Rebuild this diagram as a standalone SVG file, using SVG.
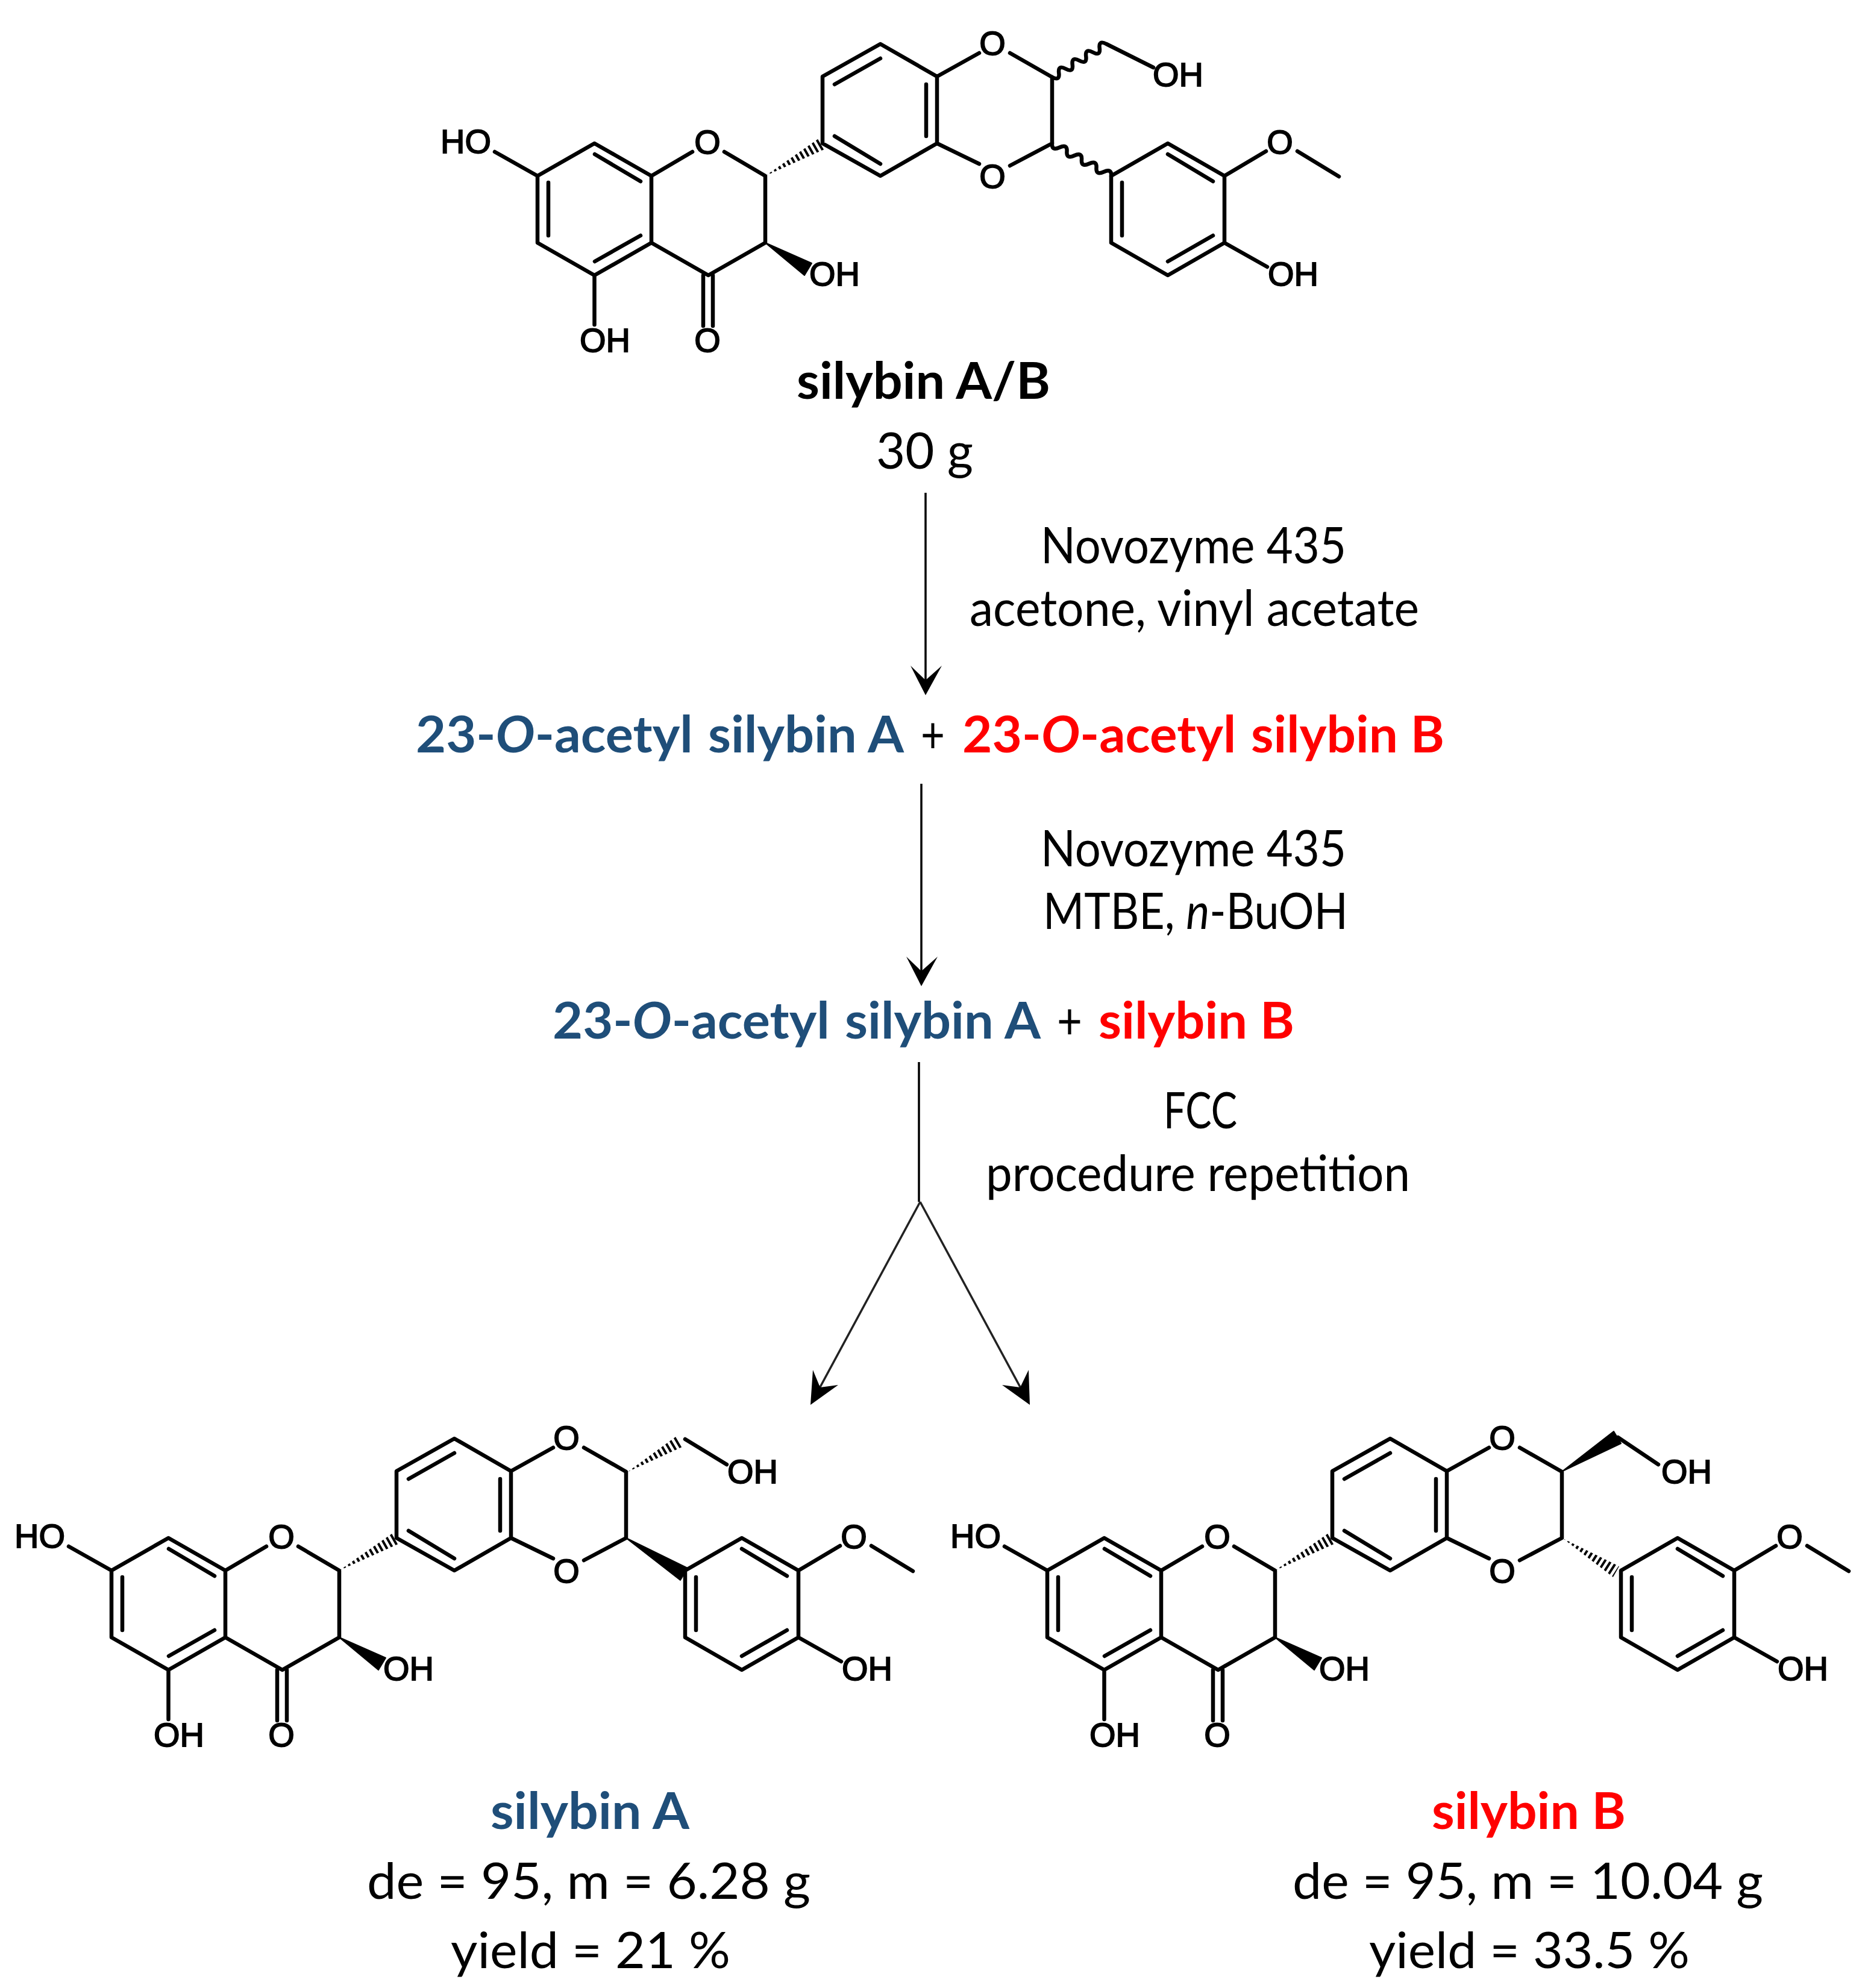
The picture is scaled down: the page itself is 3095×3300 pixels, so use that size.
<svg xmlns="http://www.w3.org/2000/svg" width="3095" height="3300" viewBox="0 0 3095 3300">
<style>
.b{fill:none;stroke:#000;stroke-width:6.5;stroke-linecap:round;stroke-linejoin:round}
.w{fill:#000;stroke:#000;stroke-width:2;stroke-linejoin:round}
.h{fill:none;stroke:#000;stroke-width:24;stroke-dasharray:4 4.5}
.a{font-family:"Liberation Sans",Arial,sans-serif;font-size:56px;fill:#000;stroke:#000;stroke-width:1.8;text-anchor:middle}
.t{font-family:Lato,"Open Sans","Liberation Sans",sans-serif;font-size:84px;fill:#000}
.bd{font-weight:700}
.blue{fill:#1F4E79}
.red{fill:#FF0000}
.c{fill:none;stroke:#000;stroke-width:3.5}
.d{fill:none;stroke:#222;stroke-width:3.5}
.ah{fill:#000}
</style>
<defs>
<clipPath id="c1"><polygon points="189,0 289,-45 279,-63"/></clipPath>
<clipPath id="c2"><polygon points="668,-164 760,-206 750,-224"/></clipPath>
<clipPath id="c3"><polygon points="667,-53 750,11 760,-7"/></clipPath>
<g id="skeleton">
<path class="b" d="M-189,0L-94.5,-54L0,0V111L-94.5,165L-189,111ZM-171,11V99M-94,-36L-18,9M-18,99L-94,142M-260,-40L-189,0M-94.5,165V247M86,165V249M102,165V249M0,0L68,-40M121,-40L189,0V111L94.5,165L0,111M284,-54V-165L380,-219L474,-165V-54L380,0ZM304,-152L380,-195M456,-152V-66M304,-66L380,-20M474,-165L544,-204M595,-204L665,-164V-54L595,-17M544,-20L474,-54M763,0L857,-54L951,0V111L857,165L763,111ZM781,11V99M857,-36L932,9M932,99L857,142M951,0L1020,-41M1072,-41L1141,1M951,111L1022,151"/>
<polygon class="w" points="189,111 254,165 266,145"/>
<line class="h" x1="189" y1="0" x2="284" y2="-54" clip-path="url(#c1)"/>
</g>
</defs>
<g id="connectors">
<path class="c" d="M1536,818V1130M1529,1301V1613M1525,1763V1995"/>
<path class="d" d="M1527,1995L1358,2308M1527,1995L1696,2308"/>
<path class="ah" d="M1536,1154L1511,1105L1536,1129L1563,1105ZM1529,1637L1504,1588L1529,1612L1556,1588Z"/>
<path class="ah" d="M1345,2332L1349,2274L1361,2303L1391,2299ZM1709,2332L1707,2274L1693,2303L1663,2299Z"/>
</g>
<g id="silybin-ab">
<g transform="translate(1081,292)">
<use href="#skeleton"/>
<path class="b" d="M665,-164q13,7 11.25,-6.875t11.25,-6.875t11.25,-6.875t11.25,-6.875t11.25,-6.875t11.25,-6.875t11.25,-6.875t11.25,-6.875M755,-219L833,-180M665,-54q-1,13 12.25,6.75t12.25,6.75t12.25,6.75t12.25,6.75t12.25,6.75t12.25,6.75t12.25,6.75t12.25,6.75"/>
<text class="a" x="-308" y="-38">HO</text>
<text class="a" x="93" y="-37">O</text>
<text class="a" x="566" y="-201">O</text>
<text class="a" x="566" y="20">O</text>
<text class="a" x="874" y="-149">OH</text>
<text class="a" x="1043" y="-37">O</text>
<text class="a" x="1065" y="182">OH</text>
<text class="a" x="304" y="182">OH</text>
<text class="a" x="-77" y="292">OH</text>
<text class="a" x="93" y="292">O</text>
</g>
<text class="t bd" x="1322" y="662" textLength="421" lengthAdjust="spacingAndGlyphs">silybin A/B</text>
<text class="t" x="1454" y="778" textLength="161" lengthAdjust="spacingAndGlyphs">30 g</text>
</g>
<g id="step1-reagents">
<text class="t" x="1727" y="935" textLength="507" lengthAdjust="spacingAndGlyphs">Novozyme 435</text>
<text class="t" x="1609" y="1039" textLength="746" lengthAdjust="spacingAndGlyphs">acetone, vinyl acetate</text>
</g>
<g id="acetyl-mix">
<text class="t bd blue" x="690" y="1249" textLength="810" lengthAdjust="spacingAndGlyphs">23-<tspan font-style="italic">O</tspan>-acetyl <tspan dx="4">silybin A</tspan></text>
<text class="t" x="1528" y="1249" textLength="40" lengthAdjust="spacingAndGlyphs">+</text>
<text class="t bd red" x="1597" y="1249" textLength="800" lengthAdjust="spacingAndGlyphs">23-<tspan font-style="italic">O</tspan>-acetyl <tspan dx="4">silybin B</tspan></text>
</g>
<g id="step2-reagents">
<text class="t" x="1727" y="1438" textLength="507" lengthAdjust="spacingAndGlyphs">Novozyme 435</text>
<text class="t" transform="translate(1731,1542) scale(.876,1)">MTBE, <tspan font-style="italic">n</tspan>-BuOH</text>
</g>
<g id="acetyl-a-silybin-b">
<text class="t bd blue" x="917" y="1724" textLength="810" lengthAdjust="spacingAndGlyphs">23-<tspan font-style="italic">O</tspan>-acetyl <tspan dx="4">silybin A</tspan></text>
<text class="t" x="1754" y="1724" textLength="42" lengthAdjust="spacingAndGlyphs">+</text>
<text class="t bd red" x="1823" y="1724" textLength="325" lengthAdjust="spacingAndGlyphs">silybin B</text>
</g>
<g id="step3-reagents">
<text class="t" x="1931" y="1873" textLength="122" lengthAdjust="spacingAndGlyphs">FCC</text>
<text class="t" x="1636" y="1977" textLength="704" lengthAdjust="spacingAndGlyphs">procedure repetition</text>
</g>
<g id="silybin-a">
<g transform="translate(374,2607)">
<use href="#skeleton"/>
<line class="h" x1="668" y1="-164" x2="755" y2="-215" clip-path="url(#c2)"/>
<polygon class="w" points="665,-54 755,16 767,-4"/>
<path class="b" d="M763,-218L832,-176"/>
<text class="a" x="-308" y="-38">HO</text>
<text class="a" x="93" y="-37">O</text>
<text class="a" x="566" y="-201">O</text>
<text class="a" x="566" y="20">O</text>
<text class="a" x="875" y="-145">OH</text>
<text class="a" x="1043" y="-37">O</text>
<text class="a" x="1065" y="182">OH</text>
<text class="a" x="304" y="182">OH</text>
<text class="a" x="-77" y="292">OH</text>
<text class="a" x="93" y="292">O</text>
</g>
<text class="t bd blue" x="814" y="3036" textLength="330" lengthAdjust="spacingAndGlyphs">silybin A</text>
<text class="t" x="609" y="3152" textLength="736" lengthAdjust="spacingAndGlyphs">de = 95, m = 6.28 g</text>
<text class="t" x="748" y="3267" textLength="464" lengthAdjust="spacingAndGlyphs">yield = 21 %</text>
</g>
<g id="silybin-b">
<g transform="translate(1927,2607)">
<use href="#skeleton"/>
<polygon class="w" points="666,-165 763,-211 751,-231"/>
<line class="h" x1="667" y1="-53" x2="755" y2="3" clip-path="url(#c3)"/>
<path class="b" d="M758,-221L825,-176"/>
<text class="a" x="-308" y="-38">HO</text>
<text class="a" x="93" y="-37">O</text>
<text class="a" x="566" y="-201">O</text>
<text class="a" x="566" y="20">O</text>
<text class="a" x="872" y="-145">OH</text>
<text class="a" x="1043" y="-37">O</text>
<text class="a" x="1065" y="182">OH</text>
<text class="a" x="304" y="182">OH</text>
<text class="a" x="-77" y="292">OH</text>
<text class="a" x="93" y="292">O</text>
</g>
<text class="t bd red" x="2376" y="3036" textLength="322" lengthAdjust="spacingAndGlyphs">silybin B</text>
<text class="t" x="2145" y="3152" textLength="781" lengthAdjust="spacingAndGlyphs">de = 95, m = 10.04 g</text>
<text class="t" x="2272" y="3267" textLength="532" lengthAdjust="spacingAndGlyphs">yield = 33.5 %</text>
</g>
</svg>
